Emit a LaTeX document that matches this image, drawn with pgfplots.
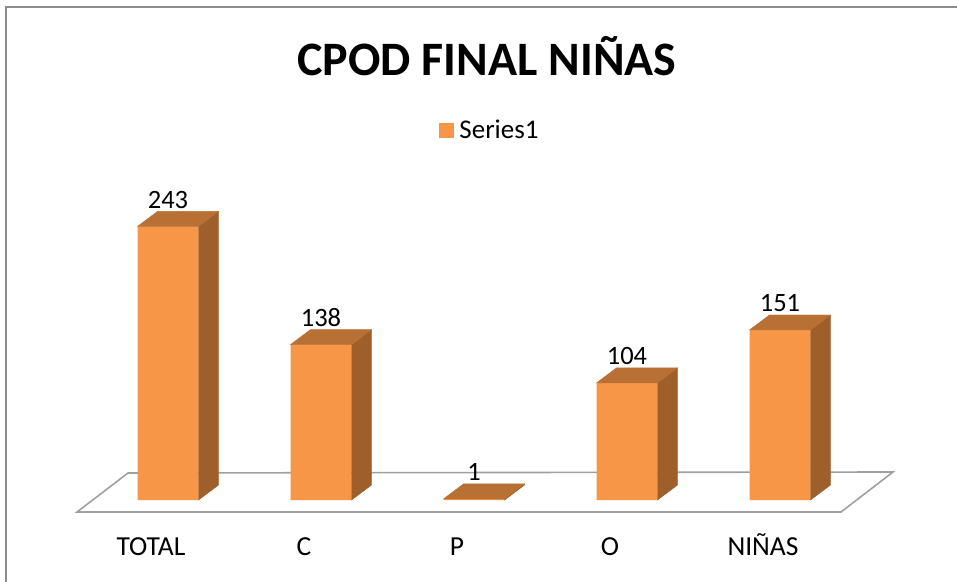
\documentclass[border=0pt]{standalone}
\usepackage{fontspec}
\setmainfont{Carlito}
\usepackage{pgfplots}
\usepackage{pgfplotstable}
\pgfplotsset{compat=1.18}
\definecolor{frontc}{HTML}{F79646}
\definecolor{topc}{HTML}{B97034}
\definecolor{sidec}{HTML}{9E5F2B}
\definecolor{framec}{HTML}{8C8C8C}
\definecolor{floorc}{HTML}{A0A0A0}
\pgfdeclareplotmark{blank}{}
\pgfplotstableread{
x v
0 243
1 138
2 1
3 104
4 151
}\datatable
\begin{document}
\begin{tikzpicture}[x=1pt,y=1pt]
\begin{axis}[
  at={(168pt,81pt)}, anchor=origin,
  x=153pt, y=1.126pt,
  xmin=-0.7, xmax=4.9, ymin=0, ymax=260,
  clip=false,
  axis x line*=bottom, hide y axis,
  x axis line style={draw=none},
  xtick={0,...,4}, xticklabels={TOTAL,C,P,O,NIÑAS},
  xtick style={draw=none},
  xticklabel style={anchor=base, yshift=-55pt, xshift=-17pt, font=\fontsize{27.5}{31}\selectfont},
  /pgf/number format/assume math mode=true,
  legend style={at={(0.5008,1.2638)}, anchor=center, draw=none, fill=none,
    font=\fontsize{27}{31}\selectfont},
  legend image code/.code={\fill[frontc] (0pt,-7.5pt) rectangle (15pt,7.5pt); \path (18pt,0pt);},
]
% floor
\filldraw[fill=white, draw=floorc, line width=1.6pt, line join=miter]
  ([shift={(-91pt,-12pt)}]axis cs:0,0) --
  ([shift={(-40pt,27pt)}]axis cs:0,0) --
  ([shift={(725pt,28pt)}]axis cs:0,0) --
  ([shift={(673pt,-12pt)}]axis cs:0,0) -- cycle;
% tops and sides
\addplot[forget plot, scatter, only marks, mark=blank,
  visualization depends on={\thisrow{v}\as\val},
  scatter/@pre marker code/.code={%
    \pgfmathsetmacro\hb{15-\val*1.126}%
    \pgfmathsetmacro\hf{-\val*1.126}%
    \fill[sidec] (30.5pt,0pt) -- (50.5pt,15pt) -- (50.5pt,\hb pt) -- (30.5pt,\hf pt) -- cycle;
    \fill[topc] (-30.5pt,0pt) -- (30.5pt,0pt) -- (50.5pt,15pt) -- (-10.5pt,15pt) -- cycle;
  },
  scatter/@post marker code/.code={},
] table[x=x,y=v]{\datatable};
% front faces
\addplot[ybar, bar width=61pt, fill=frontc, draw=none,
  nodes near coords,
  every node near coord/.append style={anchor=base, yshift=18pt, text=black,
    font=\fontsize{26.5}{30}\selectfont},
] table[x=x,y=v]{\datatable};
\addlegendentry{Series1}
\end{axis}
\node[anchor=base, font=\fontsize{48}{52}\selectfont\bfseries] at (487,505) {CPOD FINAL NIÑAS};
\draw[framec, line width=2pt] (6,-10) -- (6,573.5) -- (970,573.5);
\pgfresetboundingbox
\path[use as bounding box] (0,0) rectangle (957,581);
\end{tikzpicture}
\end{document}
